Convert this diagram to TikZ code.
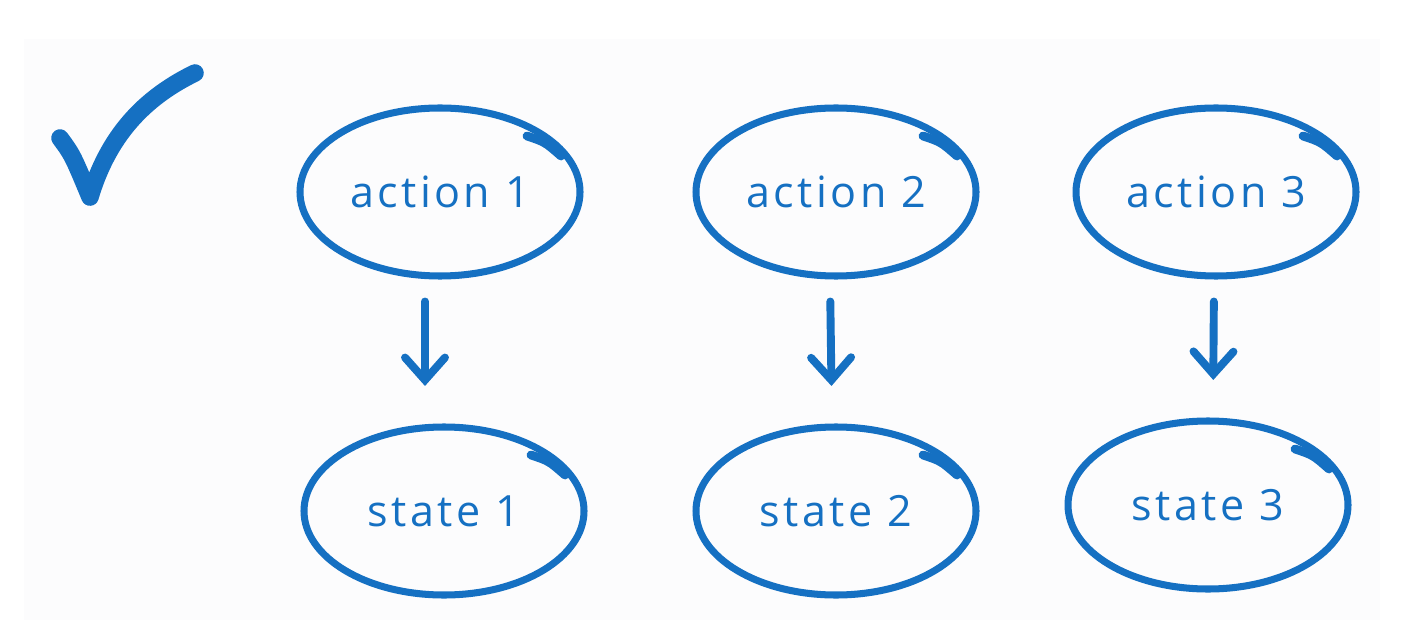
\documentclass[tikz,border=0pt]{standalone}
\usepackage{fontspec}
\usetikzlibrary{positioning, arrows.meta, shapes.geometric}
\newfontfamily\handfont[LetterSpace=8]{Open Sans}
\definecolor{inkblue}{HTML}{1570C2}
\definecolor{paperbg}{HTML}{FCFCFD}

\begin{document}
\begin{tikzpicture}[
    >=Stealth,
    every node/.style={font=\handfont},
    bubble/.style={
        ellipse, draw=inkblue, line width=4pt, minimum width=5.6cm,
        minimum height=3.36cm, text=inkblue, font=\handfont\fontsize{24.5}{28}\selectfont
    },
    flow/.style={
        -{Straight Barb[length=0.45cm, width=0.8cm, line cap=round]},
        draw=inkblue, line width=4.5pt, line cap=round,
        shorten <=0.44cm, shorten >=0.75cm
    },
    flourish/.style={draw=inkblue, line width=5pt, line cap=round},
]

% Canvas
\useasboundingbox (0, 0) rectangle (28.24, -12.68);
\fill[paperbg] (0.48, -0.78) rectangle (27.6, -12.4);

% Check mark
\draw[inkblue, line width=10pt, line cap=round, line join=round]
    (1.2, -2.76) .. controls (1.45, -3.1) .. (1.8, -3.94)
    .. controls (2.2, -2.6) and (3.0, -1.9) .. (3.9, -1.46);

% Actions (top row)
\node[bubble] (act1) at (8.8, -3.84) {action 1};
\node[bubble] (act2) at (16.72, -3.84) {action 2};
\node[bubble] (act3) at (24.32, -3.84) {action 3};

% States (bottom row)
\node[bubble] (st1) at (8.88, -10.22) {state 1};
\node[bubble] (st2) at (16.72, -10.22) {state 2};
\node[bubble] (st3) at (24.16, -10.1) {state 3};

% Pen overshoot at the top right of each bubble
\foreach \n in {act1, act2, act3, st1, st2, st3}
    \draw[flourish] ([shift={(1.74, 1.12)}]\n.center) .. controls ([shift={(2.1, 1.0)}]\n.center) .. ([shift={(2.42, 0.72)}]\n.center);

% Arrows: action -> state
\draw[flow] ([xshift=-0.3cm]act1.south) -- ([xshift=-0.38cm]st1.north);
\draw[flow] ([xshift=-0.12cm]act2.south) -- ([xshift=-0.08cm]st2.north);
\draw[flow] ([xshift=-0.04cm]act3.south) -- ([xshift=0.1cm]st3.north);

\end{tikzpicture}
\end{document}
